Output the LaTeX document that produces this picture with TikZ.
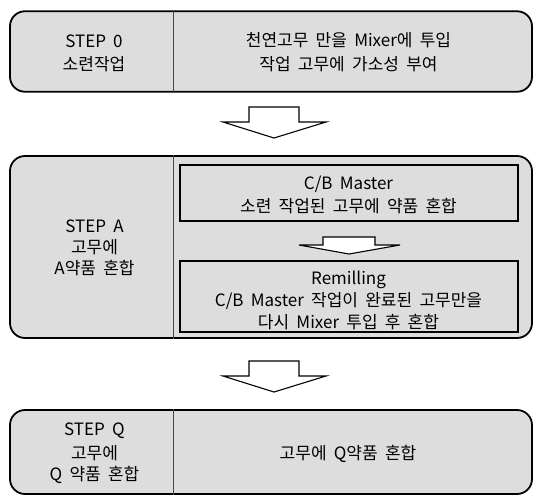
\documentclass[tikz,border=0pt]{standalone}
\usepackage{fontspec}
\setmainfont{Noto Sans CJK KR}[WordSpace=1.9]
\definecolor{boxfill}{RGB}{221,221,221}
\definecolor{divcol}{RGB}{70,70,70}
\begin{document}
\begin{tikzpicture}[x=1pt,y=-1pt,
  outerbox/.style={draw=black, line width=1.8pt, fill=boxfill, rounded corners=15pt, inner sep=0pt},
  innerbox/.style={draw=black, line width=1.4pt, fill=boxfill, inner sep=0pt},
  divider/.style={draw=divcol, line width=0.9pt},
  blockarrow/.style={draw=black, line width=1.1pt, fill=white, line join=miter},
  txt/.style={anchor=base, font=\fontsize{17}{20}\selectfont, inner sep=0pt}
]
\useasboundingbox (0,0) rectangle (534,496);

% STEP 0
\node[outerbox, minimum width=522pt, minimum height=80.5pt] (b0) at (271,51.5) {};
\draw[divider] (b0.north -| 173,0) -- (b0.south -| 173,0);
\node[txt] (t0a) at (94,47) {STEP 0};
\node[txt] (t0b) at (94,70.5) {소련작업};
\node[txt] (t0c) at (348.5,46.5) {천연고무 만을 Mixer에 투입};
\node[txt] (t0d) at (348.5,70) {작업 고무에 가소성 부여};

% arrow 1
\draw[blockarrow] (249,107) -- (299,107) -- (299,122) -- (326,122) -- (274,138) -- (223,122) -- (249,122) -- cycle;

% STEP A
\node[outerbox, minimum width=522pt, minimum height=182pt] (ba) at (271,247) {};
\draw[divider] (ba.north -| 173,0) -- (ba.south -| 173,0);
\node[txt] (taa) at (94.5,232) {STEP A};
\node[txt] (tab) at (94.5,253.5) {고무에};
\node[txt] (tac) at (94.5,274.5) {A약품 혼합};
\node[innerbox, minimum width=338pt, minimum height=56pt] (i1) at (349,193) {};
\node[txt] (ti1a) at (348.5,189.5) {C/B Master};
\node[txt] (ti1b) at (348.5,212.5) {소련 작업된 고무에 약품 혼합};
\draw[blockarrow] (323,237) -- (375,237) -- (375,245) -- (400,245) -- (349,254) -- (299,245) -- (323,245) -- cycle;
\node[innerbox, minimum width=338pt, minimum height=71pt] (i2) at (349,296.5) {};
\node[txt] (ti2a) at (348.5,284.5) {Remilling};
\node[txt] (ti2b) at (348.5,306.5) {C/B Master 작업이 완료된 고무만을};
\node[txt] (ti2c) at (348.5,328) {다시 Mixer 투입 후 혼합};

% arrow 2
\draw[blockarrow] (249,361) -- (299,361) -- (299,376) -- (326,376) -- (274,392) -- (223,376) -- (249,376) -- cycle;

% STEP Q
\node[outerbox, minimum width=522pt, minimum height=84pt] (bq) at (271,452) {};
\draw[divider] (bq.north -| 173,0) -- (bq.south -| 173,0);
\node[txt] (tqa) at (94.5,435) {STEP Q};
\node[txt] (tqb) at (94.5,459) {고무에};
\node[txt] (tqc) at (94.5,480.5) {Q 약품 혼합};
\node[txt] (tqr) at (348,459) {고무에 Q약품 혼합};
\end{tikzpicture}
\end{document}
